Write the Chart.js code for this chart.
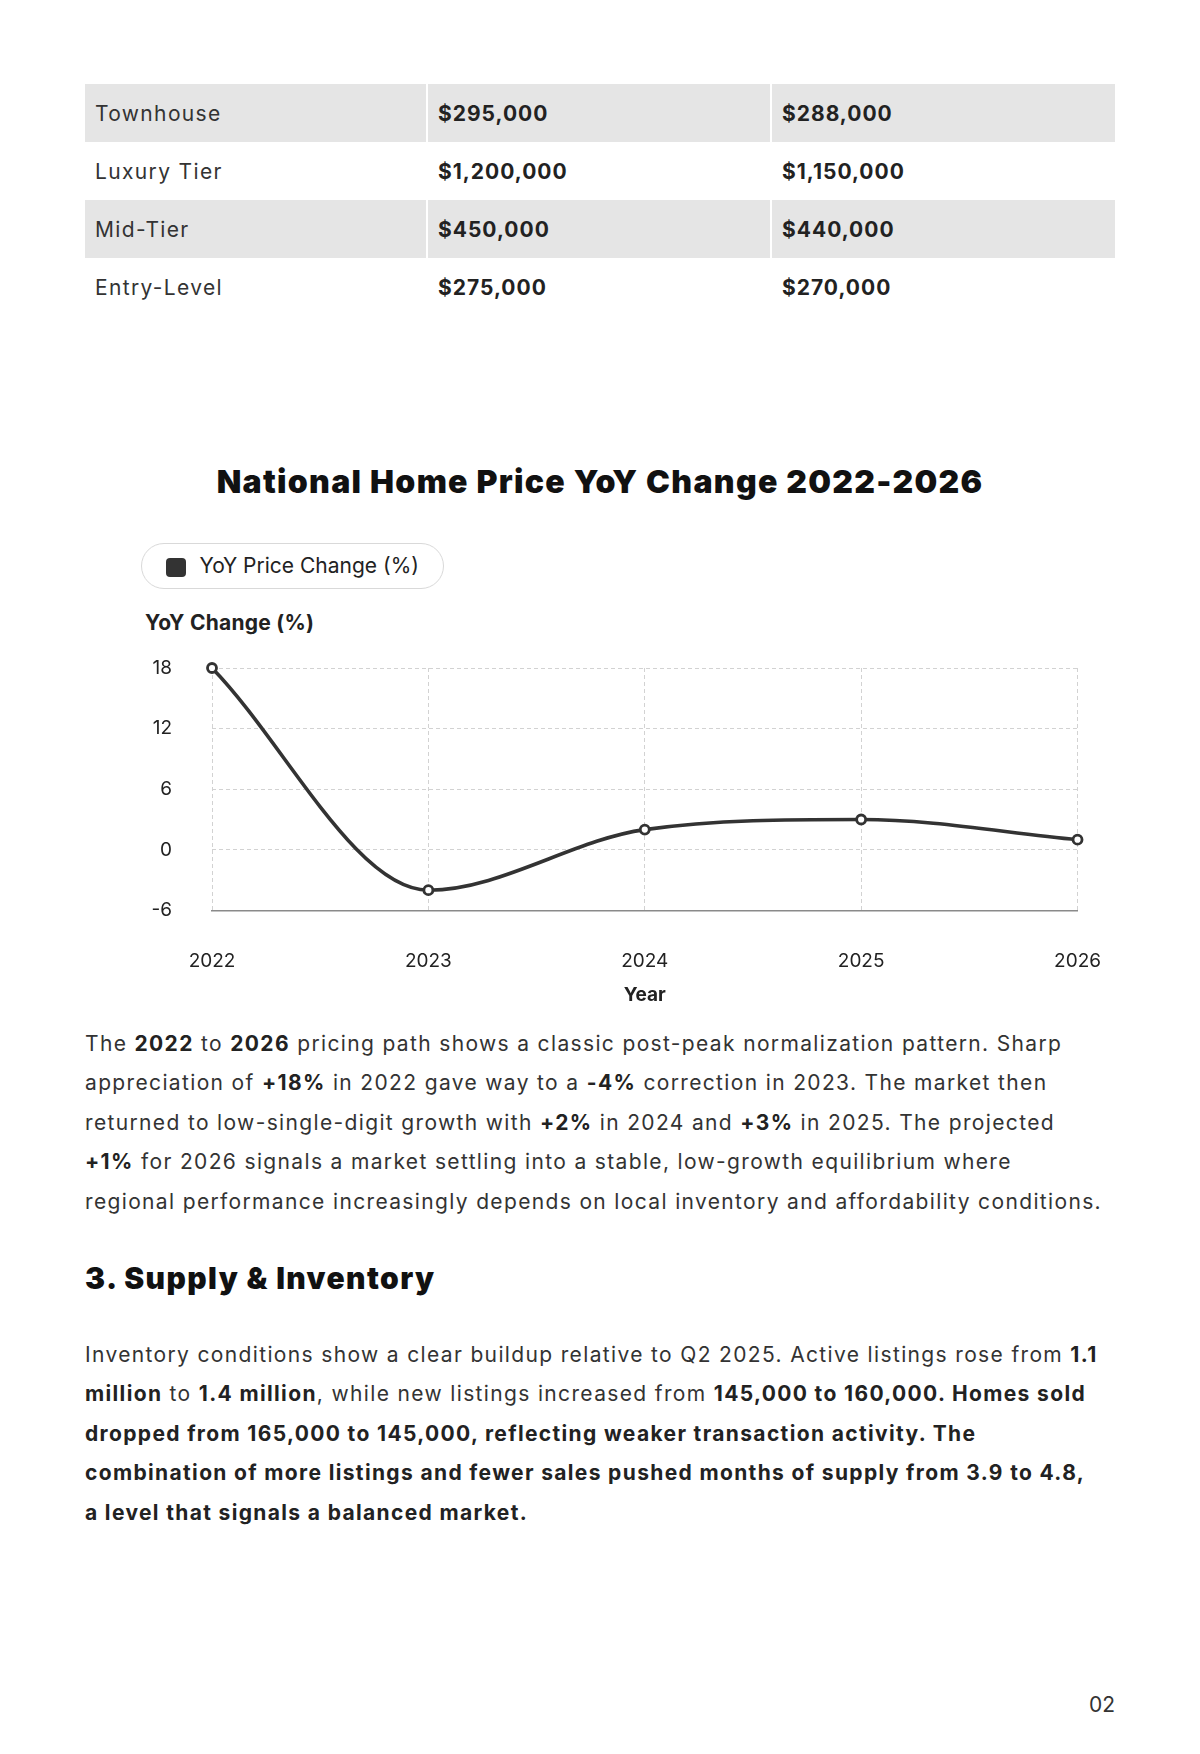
<!DOCTYPE html>
<html>
<head>
<meta charset="utf-8">
<script src="https://cdn.jsdelivr.net/npm/chart.js@4.4.1/dist/chart.umd.min.js"></script>
<style>
  html, body { margin: 0; padding: 0; background: #fff; }
  body { width: 1200px; height: 1754px; position: relative; overflow: hidden; font-family: Inter, "Noto Sans", sans-serif; color: #2a2a2a; }
  .abs { position: absolute; }
  table { position: absolute; left: 85px; top: 84px; width: 1030px; border-collapse: separate; border-spacing: 0; }
  td { height: 58px; padding: 0 0 0 10px; font-size: 21px; letter-spacing: 1.35px; vertical-align: middle; box-sizing: border-box; white-space: nowrap; }
  tr.g td { background: #e5e5e5; }
  td.c1 { width: 341px; color: #333; }
  td.c2 { width: 344px; font-weight: 700; color: #222; border-left: 2px solid #fff; letter-spacing: 1px; }
  td.c3 { font-weight: 700; color: #222; border-left: 2px solid #fff; letter-spacing: 1px; }
  .title { left: 0; width: 1200px; text-align: center; top: 462px; font-size: 32px; font-weight: 900; color: #111; letter-spacing: 1.3px; }
  .legend { left: 141px; top: 543px; width: 303px; height: 46px; box-sizing: border-box; border: 1.5px solid #d9d9d9; border-radius: 23px; }
  .legend .sw { position: absolute; left: 23.5px; top: 13.5px; width: 20px; height: 19px; border-radius: 4px; background: #333; }
  .legend .tx { position: absolute; left: 57.5px; top: 8.5px; font-size: 21px; color: #222; white-space: nowrap; }
  .ytitle { left: 145px; top: 610px; font-size: 21px; font-weight: 700; color: #222; letter-spacing: 0.25px; }
  .para { left: 85px; font-size: 21px; line-height: 39.4px; color: #333; white-space: nowrap; letter-spacing: 1.35px; }
  .para b { color: #222; font-weight: 700; }
  .h3 { left: 85px; top: 1260px; font-size: 30px; font-weight: 900; color: #111; letter-spacing: 1.4px; }
  .pn { right: 85px; top: 1692px; font-size: 21px; color: #333; }
  #wrap { position: absolute; left: 141px; top: 650px; width: 960px; height: 357px; }
</style>
</head>
<body>
<script>
  // Table data
  const tableCategories = ["Townhouse", "Luxury Tier", "Mid-Tier", "Entry-Level"];
  const tableColA = ["$295,000", "$1,200,000", "$450,000", "$275,000"];
  const tableColB = ["$288,000", "$1,150,000", "$440,000", "$270,000"];

  // Chart data
  const years = ["2022", "2023", "2024", "2025", "2026"];
  const yoyChange = [18, -4, 2, 3, 1];
  const seriesLabel = "YoY Price Change (%)";
  const yTicks = [-6, 0, 6, 12, 18];
</script>

<table id="tbl"></table>

<div class="abs title">National Home Price YoY Change 2022-2026</div>
<div class="abs legend" id="legend"><div class="sw"></div><div class="tx" id="legtx"></div></div>
<div class="abs ytitle">YoY Change (%)</div>
<div id="wrap"><canvas id="c"></canvas></div>

<div class="abs para" style="top:1024px;">
The <b>2022</b> to <b>2026</b> pricing path shows a classic post-peak normalization pattern. Sharp<br>
appreciation of <b>+18%</b> in 2022 gave way to a <b>-4%</b> correction in 2023. The market then<br>
returned to low-single-digit growth with <b>+2%</b> in 2024 and <b>+3%</b> in 2025. The projected<br>
<b>+1%</b> for 2026 signals a market settling into a stable, low-growth equilibrium where<br>
regional performance increasingly depends on local inventory and affordability conditions.
</div>

<div class="abs h3">3. Supply &amp; Inventory</div>

<div class="abs para" style="top:1335px;">
Inventory conditions show a clear buildup relative to Q2 2025. Active listings rose from <b>1.1</b><br>
<b>million</b> to <b>1.4 million</b>, while new listings increased from <b>145,000 to 160,000. Homes sold</b><br>
<b>dropped from 165,000 to 145,000, reflecting weaker transaction activity. The</b><br>
<b>combination of more listings and fewer sales pushed months of supply from 3.9 to 4.8,</b><br>
<b>a level that signals a balanced market.</b>
</div>

<div class="abs pn">02</div>

<script>
  const tbl = document.getElementById('tbl');
  tableCategories.forEach((cat, i) => {
    const tr = document.createElement('tr');
    if (i % 2 === 0) tr.className = 'g';
    tr.innerHTML = '<td class="c1"></td><td class="c2"></td><td class="c3"></td>';
    tr.children[0].textContent = cat;
    tr.children[1].textContent = tableColA[i];
    tr.children[2].textContent = tableColB[i];
    tbl.appendChild(tr);
  });
  document.getElementById('legtx').textContent = seriesLabel;

  const font = { family: 'Inter, "Noto Sans", sans-serif', size: 19 };
  new Chart(document.getElementById('c'), {
    type: 'line',
    data: {
      labels: years,
      datasets: [{
        label: seriesLabel,
        data: yoyChange,
        borderColor: '#333333',
        backgroundColor: '#333333',
        borderWidth: 3.6,
        cubicInterpolationMode: 'monotone',
        clip: false,
        pointRadius: 4.5,
        pointBorderWidth: 2.8,
        pointBackgroundColor: '#ffffff',
        pointBorderColor: '#333333',
        fill: false
      }]
    },
    options: {
      responsive: true,
      maintainAspectRatio: false,
      animation: false,
      layout: { padding: { top: 18, right: 23, bottom: 0, left: 0 } },
      plugins: { legend: { display: false }, tooltip: { enabled: false } },
      scales: {
        x: {
          grid: { color: '#d2d2d2', drawTicks: true, tickLength: 39, tickColor: 'rgba(0,0,0,0)', lineWidth: 1 },
          border: { display: true, color: '#8a8a8a', width: 1.5, dash: [4, 3] },
          ticks: { color: '#222', font: font, padding: 0 },
          title: { display: true, text: 'Year', color: '#222', font: { family: font.family, size: 19, weight: '700' }, padding: { top: 12, bottom: 0 } }
        },
        y: {
          min: -6, max: 18,
          afterFit: (s) => { s.width = 71; },
          afterBuildTicks: (s) => { s.ticks = yTicks.map(v => ({ value: v })); },
          grid: { color: '#d2d2d2', drawTicks: true, tickLength: 40, tickColor: 'rgba(0,0,0,0)', lineWidth: 1 },
          border: { display: false, dash: [4, 3] },
          ticks: { color: '#222', font: font, padding: 0 }
        }
      }
    }
  });
</script>
</body>
</html>
